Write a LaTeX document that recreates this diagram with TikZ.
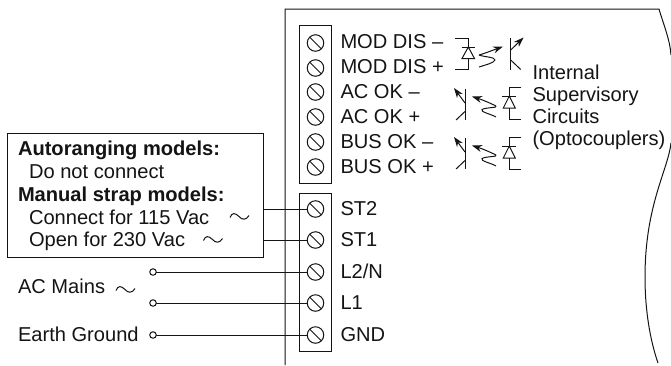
\documentclass[tikz,border=0pt]{standalone}
\usepackage{fontspec}
\setmainfont{Liberation Sans}
\usetikzlibrary{arrows.meta,calc}
\definecolor{ink}{HTML}{141414}
\tikzset{
  x=1pt,y=-1pt,
  wire/.style={line width=1pt,draw=ink},
  lbl/.style={anchor=base west,inner sep=0pt,outer sep=0pt,text=ink,font=\fontsize{20.1}{22}\selectfont},
  blbl/.style={lbl,font=\fontsize{20.1}{22}\selectfont\bfseries},
  screw/.style={circle,draw=ink,line width=1pt,minimum size=16.5pt,inner sep=0pt,outer sep=0pt,
    path picture={\draw[line width=1pt,ink] (path picture bounding box.north west)--(path picture bounding box.south east);}},
  termopen/.style={circle,draw=ink,line width=1pt,fill=white,minimum size=6.5pt,inner sep=0pt,outer sep=0pt},
  blockbox/.style={rectangle,draw=ink,line width=1pt,inner sep=0pt,outer sep=0pt,anchor=north west},
  tip/.style={-{Stealth[length=10pt,width=7pt]}},
}
\newcommand{\wavetilde}[2]{%
  \draw[wire,shift={(#1,#2)}] (0,1.5) .. controls (2,-3.5) and (5,-3.5) .. (9,0.5) .. controls (12,4) and (16,4.5) .. (19,-0.5);}
\newcommand{\diode}[2]{%
  \begin{scope}[shift={(#1,#2)}]
    \draw[wire] (12,0) -- (0,0) -- (0,8.5);
    \draw[wire] (-7,8.5) -- (7,8.5);
    \draw[wire] (-6,20.5) -- (6,20.5) -- (0,8.5) -- cycle;
    \draw[wire] (0,20.5) -- (0,31.5) -- (12,31.5);
  \end{scope}}
\newcommand{\rxleft}[2]{%
  \begin{scope}[shift={(#1,#2)}]
    \draw[wire] (0,0) -- (0,31);
    \draw[wire,tip] (0,14) -- (-11,-1);
    \draw[wire] (0,22.5) -- (-9,31);
    \draw[wire,tip] (31,17) .. controls (25,14) and (18,11) .. (7,7.5);
    \draw[wire] (31,17) .. controls (33,19) and (22,18) .. (17,20.5) .. controls (15,23) and (26,25) .. (31,28);
  \end{scope}}
\begin{document}
\begin{tikzpicture}
\useasboundingbox (0,0) rectangle (671,365);
% housing
\draw[wire] (285,365) -- (285,9) -- (659,9) .. controls (664,26) and (670,40) .. (671,55);
\draw[wire] (671,143) .. controls (668,170) and (645,205) .. (645,277) .. controls (645,310) and (650,340) .. (658,363);
% terminal blocks
\node[blockbox,minimum width=32.5pt,minimum height=158pt] (blockA) at (299,25) {};
\node[blockbox,minimum width=32.5pt,minimum height=158pt] (blockB) at (299,193) {};
\foreach \n/\y in {a1/43,a2/68,a3/92,a4/117,a5/142,a6/167,b1/209,b2/240,b3/272,b4/303,b5/335}
  \node[screw] (\n) at (315.5,\y) {};
% labels
\node[lbl] (t1) at (340.5,48.5) {MOD DIS –};
\node[lbl] (t2) at (340.5,73.5) {MOD DIS +};
\node[lbl] (t3) at (340.5,98.5) {AC OK –};
\node[lbl] (t4) at (340.5,123.5) {AC OK +};
\node[lbl] (t5) at (340.5,148.5) {BUS OK –};
\node[lbl] (t6) at (340.5,173.5) {BUS OK +};
\node[lbl] (t7) at (340.5,215) {ST2};
\node[lbl] (t8) at (340.5,246.5) {ST1};
\node[lbl] (t9) at (340.5,278) {L2/N};
\node[lbl] (t10) at (340.5,309.5) {L1};
\node[lbl] (t11) at (340.5,341) {GND};
\node[lbl] (i1) at (532.5,79) {Internal};
\node[lbl] (i2) at (532.5,101) {Supervisory};
\node[lbl] (i3) at (532.5,123) {Circuits};
\node[lbl] (i4) at (532.5,145.5) {(Optocouplers)};
% note box
\node[blockbox,fill=white,minimum width=256pt,minimum height=124pt] (note) at (7,133) {};
\node[blbl] (n1) at (18,155) {Autoranging models:};
\node[lbl] (n2) at (29,178) {Do not connect};
\node[blbl] (n3) at (18,201) {Manual strap models:};
\node[lbl] (n4) at (29,224) {Connect for 115 Vac};
\node[lbl] (n5) at (29,246.5) {Open for 230 Vac};
\node[lbl] (m1) at (18,293.5) {AC Mains};
\node[lbl] (m2) at (18,341) {Earth Ground};
\wavetilde{230}{216}
\wavetilde{203.5}{239}
\wavetilde{116}{289}
% wires
\node[termopen] (o1) at (153,272) {};
\node[termopen] (o2) at (153,303) {};
\node[termopen] (o3) at (153,335) {};
\draw[wire] (note.east |- b1) -- (b1);
\draw[wire] (note.east |- b2) -- (b2);
\draw[wire] (o1) -- (b3);
\draw[wire] (o2) -- (b4);
\draw[wire] (o3) -- (b5);
% optocoupler 1
\draw[wire] (455,38.3) -- (468.3,38.3) -- (468.3,47);
\draw[wire] (461.5,47) -- (475,47);
\draw[wire] (462,58.5) -- (474.5,58.5) -- (468.3,47) -- cycle;
\draw[wire] (468.3,58.5) -- (468.3,69.3) -- (455,69.3);
\draw[wire] (479,67) .. controls (485,65) and (494,63) .. (495,60) .. controls (495,57) and (484,57) .. (479,55);
\draw[wire,tip] (479,55) .. controls (486,53) and (492,50.5) .. (503,46.5);
\draw[wire] (510.7,38) -- (510.7,69.5);
\draw[wire,tip] (510.7,50) -- (523.5,37.5);
\draw[wire] (510.7,60) -- (520.7,69.5);
\rxleft{465}{89}
\rxleft{465}{138}
\diode{509.3}{87.5}
\diode{509.3}{137.5}
\end{tikzpicture}
\end{document}
